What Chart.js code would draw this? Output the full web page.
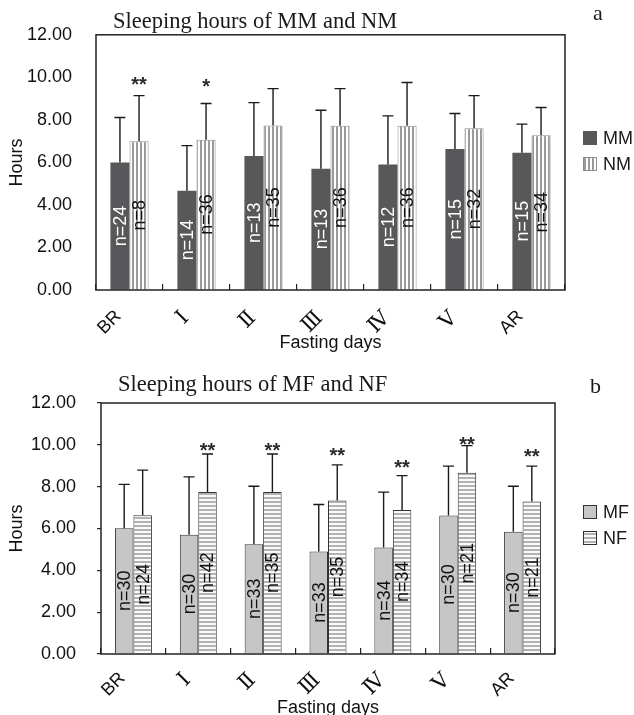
<!DOCTYPE html>
<html>
<head>
<meta charset="utf-8">
<script src="https://cdn.jsdelivr.net/npm/chart.js@4/dist/chart.umd.min.js"></script>
<style>
  html, body { margin: 0; padding: 0; background: #fff; overflow: hidden; }
  #wa { position: absolute; left: 0; top: 0; width: 634px; height: 357px; }
  #wb { position: absolute; left: 0; top: 357px; width: 634px; height: 358px; }
</style>
</head>
<body>
<div id="wa"><canvas id="ca"></canvas></div>
<div id="wb"><canvas id="cb"></canvas></div>
<script>
// ---------- data ----------
const categories = ['BR', 'Ⅰ', 'Ⅱ', 'Ⅲ', 'Ⅳ', 'Ⅴ', 'AR'];
const yTickValues = [0, 2, 4, 6, 8, 10, 12];

// panel a
const mmHours = [6.00, 4.67, 6.30, 5.70, 5.90, 6.63, 6.45];
const mmSD    = [2.11, 2.12, 2.51, 2.75, 2.29, 1.67, 1.35];
const mmN     = [24, 14, 13, 13, 12, 15, 15];
const nmHours = [7.00, 7.07, 7.73, 7.72, 7.72, 7.60, 7.28];
const nmSD    = [2.14, 1.70, 1.74, 1.75, 2.04, 1.54, 1.30];
const nmN     = [8, 36, 35, 36, 36, 32, 34];
const starsA     = ['**', '*', '', '', '', '', ''];
const starLevelA = [9.9, 9.85, 0, 0, 0, 0, 0];

// panel b
const mfHours = [6.01, 5.70, 5.25, 4.90, 5.09, 6.62, 5.84];
const mfSD    = [2.10, 2.77, 2.77, 2.25, 2.65, 2.36, 2.18];
const mfN     = [30, 30, 33, 33, 34, 30, 30];
const nfHours = [6.63, 7.74, 7.74, 7.34, 6.89, 8.66, 7.29];
const nfSD    = [2.16, 1.82, 1.82, 1.70, 1.64, 1.30, 1.69];
const nfN     = [24, 42, 35, 35, 34, 21, 21];
const starsB     = ['', '**', '**', '**', '**', '**', '**'];
const starLevelB = [0, 9.98, 9.98, 9.73, 9.2, 10.3, 9.69];

// ---------- helpers ----------
const SANS = '"Liberation Sans", Arial, sans-serif';
const SERIF = '"Liberation Serif", "Times New Roman", serif';
const XFONT = '"Liberation Sans", "DejaVu Serif", "Noto Sans CJK JP", sans-serif';

function stripePattern(ctx, vertical, dark, light) {
  const c = document.createElement('canvas');
  c.width = 4; c.height = 4;
  const g = c.getContext('2d');
  g.fillStyle = light; g.fillRect(0, 0, 4, 4);
  g.fillStyle = dark;
  if (vertical) g.fillRect(0, 0, 2, 4); else g.fillRect(0, 0, 4, 2);
  return ctx.createPattern(c, 'repeat');
}

const annotPlugin = {
  id: 'annot',
  afterDatasetsDraw(chart, args, o) {
    const ctx = chart.ctx, ys = chart.scales.y, ca = chart.chartArea;
    chart.data.datasets.forEach((ds, di) => {
      const meta = chart.getDatasetMeta(di);
      meta.data.forEach((bar, i) => {
        const top = ys.getPixelForValue(ds.data[i] + ds.sd[i]);
        ctx.save();
        ctx.strokeStyle = '#1a1a1a';
        ctx.lineWidth = 1.4;
        ctx.beginPath();
        ctx.moveTo(bar.x, bar.y);
        ctx.lineTo(bar.x, top);
        ctx.moveTo(bar.x - 5.5, top);
        ctx.lineTo(bar.x + 5.5, top);
        ctx.stroke();
        ctx.translate(bar.x, (bar.y + bar.base) / 2);
        ctx.rotate(-Math.PI / 2);
        ctx.font = '18px ' + SANS;
        ctx.fillStyle = ds.nColor;
        ctx.textAlign = 'center';
        ctx.textBaseline = 'middle';
        ctx.fillText('n=' + ds.n[i], 0, 1);
        ctx.restore();
      });
    });
    // significance marks over second series
    const meta2 = chart.getDatasetMeta(o.starDataset);
    ctx.save();
    ctx.font = 'bold 20px ' + SANS;
    ctx.fillStyle = '#2a2a2a';
    ctx.textAlign = 'center';
    ctx.textBaseline = 'alphabetic';
    o.stars.forEach((s, i) => {
      if (!s) return;
      const bar = meta2.data[i];
      ctx.fillText(s, bar.x, ys.getPixelForValue(o.starLevels[i]) + 12);
    });
    ctx.restore();
    // frame
    ctx.save();
    ctx.strokeStyle = '#222';
    ctx.lineWidth = 1.5;
    ctx.strokeRect(ca.left, ca.top, ca.right - ca.left, ca.bottom - ca.top);
    ctx.restore();
    // title and panel letter
    ctx.save();
    ctx.fillStyle = '#1a1a1a';
    ctx.textBaseline = 'alphabetic';
    ctx.textAlign = 'left';
    ctx.font = '22.5px ' + SERIF;
    ctx.fillText(o.title, o.titleX, o.titleY);
    ctx.font = '22px ' + SERIF;
    ctx.fillText(o.letter, o.letterX, o.letterY);
    ctx.restore();
    // legend
    ctx.save();
    chart.data.datasets.forEach((ds, di) => {
      const yc = o.legendY[di];
      ctx.fillStyle = ds.backgroundColor;
      ctx.fillRect(o.legendX, yc - 7, 14, 14);
      if (ds.borderWidth) {
        ctx.strokeStyle = ds.borderColor;
        ctx.lineWidth = 1;
        ctx.strokeRect(o.legendX + 0.5, yc - 6.5, 13, 13);
      }
      ctx.fillStyle = '#1a1a1a';
      ctx.font = '18px ' + SANS;
      ctx.textAlign = 'left';
      ctx.textBaseline = 'middle';
      ctx.fillText(ds.label, o.legendX + 20, yc + 1);
    });
    ctx.restore();
  }
};

function buildOptions(p) {
  return {
    responsive: true,
    maintainAspectRatio: false,
    animation: false,
    layout: { padding: { top: p.padTop, right: p.padRight, bottom: 0, left: 0 } },
    plugins: {
      legend: { display: false },
      tooltip: { enabled: false },
      annot: p.annot
    },
    scales: {
      x: {
        offset: true,
        grid: { offset: true, drawOnChartArea: false, drawTicks: true, tickLength: -6, color: '#222', lineWidth: 1.2 },
        border: { display: false },
        ticks: {
          autoSkip: false, maxRotation: 45, minRotation: 45,
          padding: p.xPad, labelOffset: -11,
          font: (c) => ({ size: (c.index > 0 && c.index < 6) ? 21 : 18, family: XFONT }),
          color: '#111'
        },
        title: {
          display: true, text: 'Fasting days', color: '#111',
          font: { size: 18, family: SANS },
          padding: { top: 0, bottom: p.xTitlePad }
        },
        afterFit(s) { s.height = p.xHeight; }
      },
      y: {
        min: 0, max: 12,
        afterBuildTicks(s) { s.ticks = yTickValues.map(v => ({ value: v })); },
        grid: { drawOnChartArea: false, drawTicks: p.yTicks, tickLength: 4, color: '#222', lineWidth: 1.2 },
        border: { display: false },
        ticks: {
          padding: p.yPad, color: '#111',
          font: { size: 18, family: SANS },
          callback: v => Number(v).toFixed(2)
        },
        title: {
          display: true, text: 'Hours', color: '#111',
          font: { size: 18, family: SANS },
          padding: { top: 6, bottom: 0 }
        },
        afterFit(s) { s.width = p.yWidth; }
      }
    }
  };
}

// ---------- panel a ----------
const ctxA = document.getElementById('ca').getContext('2d');
new Chart(ctxA, {
  type: 'bar',
  data: {
    labels: categories,
    datasets: [
      { label: 'MM', data: mmHours, sd: mmSD, n: mmN, nColor: '#ffffff',
        backgroundColor: '#58585a', borderColor: '#58585a', borderWidth: 0,
        categoryPercentage: 0.57, barPercentage: 1.0 },
      { label: 'NM', data: nmHours, sd: nmSD, n: nmN, nColor: '#111111',
        backgroundColor: stripePattern(ctxA, true, '#9a9a9a', '#ffffff'),
        borderColor: '#8c8c8c', borderWidth: 1,
        categoryPercentage: 0.57, barPercentage: 1.0 }
    ]
  },
  options: buildOptions({
    padTop: 33, padRight: 69, xHeight: 67, yWidth: 96, yPad: 24, yTicks: false,
    xPad: 22, xTitlePad: 3,
    annot: {
      stars: starsA, starLevels: starLevelA, starDataset: 1,
      title: 'Sleeping hours of MM and NM', titleX: 113, titleY: 28,
      letter: 'a', letterX: 593, letterY: 20,
      legendX: 583, legendY: [138, 164]
    }
  }),
  plugins: [annotPlugin]
});

// ---------- panel b ----------
const ctxB = document.getElementById('cb').getContext('2d');
new Chart(ctxB, {
  type: 'bar',
  data: {
    labels: categories,
    datasets: [
      { label: 'MF', data: mfHours, sd: mfSD, n: mfN, nColor: '#111111',
        backgroundColor: '#c6c6c6', borderColor: '#333333', borderWidth: 1,
        categoryPercentage: 0.57, barPercentage: 1.0 },
      { label: 'NF', data: nfHours, sd: nfSD, n: nfN, nColor: '#111111',
        backgroundColor: stripePattern(ctxB, false, '#b2b2b2', '#fafafa'),
        borderColor: '#333333', borderWidth: 1,
        categoryPercentage: 0.57, barPercentage: 1.0 }
    ]
  },
  options: buildOptions({
    padTop: 46, padRight: 79, xHeight: 61, yWidth: 101, yPad: 21, yTicks: true,
    xPad: 20, xTitlePad: -4,
    annot: {
      stars: starsB, starLevels: starLevelB, starDataset: 1,
      title: 'Sleeping hours of MF and NF', titleX: 118, titleY: 34,
      letter: 'b', letterX: 590, letterY: 36,
      legendX: 583, legendY: [155, 181]
    }
  }),
  plugins: [annotPlugin]
});
</script>
</body>
</html>
